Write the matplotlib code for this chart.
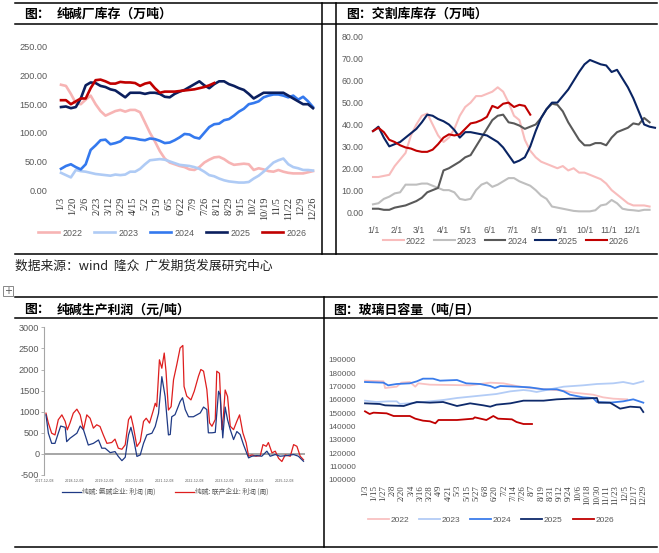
import numpy as np
import pandas as pd
import matplotlib
matplotlib.use("Agg")
import matplotlib.pyplot as plt
from matplotlib.lines import Line2D
from matplotlib.patches import Rectangle

# ---------------- data ----------------
YEARS = ["2022", "2023", "2024", "2025", "2026"]

# 纯碱厂库存 (万吨), weekly from 1/3
soda_2022 = [184, 182, 168, 152, 150, 158, 165, 150, 138, 130, 134, 138, 140, 137, 140, 140, 136, 118,
             100, 85, 68, 55, 48, 45, 42, 40, 36, 35, 40, 48, 53, 57, 58, 54, 48, 44, 45, 46, 45, 35,
             38, 36, 33, 32, 35, 32, 30, 29, 29, 29, 31, 33]
soda_2023 = [30, 26, 22, 35, 33, 32, 30, 28, 27, 26, 25, 27, 26, 27, 32, 32, 37, 45, 52, 53, 54, 53,
             50, 47, 44, 43, 42, 40, 37, 32, 26, 24, 20, 17, 15, 14, 13, 13, 14, 20, 25, 32, 40, 48,
             52, 55, 45, 40, 38, 35, 35, 34]
soda_2024 = [37, 42, 45, 40, 36, 45, 70, 78, 87, 88, 80, 82, 85, 92, 91, 90, 88, 87, 90, 89, 86, 82,
             83, 87, 92, 98, 97, 92, 90, 100, 110, 115, 116, 122, 124, 130, 137, 142, 150, 152, 155,
             162, 165, 167, 167, 165, 162, 165, 158, 163, 155, 145]
soda_2025 = [145, 146, 143, 145, 160, 183, 188, 187, 182, 180, 176, 174, 168, 162, 170, 170, 170, 168,
             170, 170, 168, 163, 162, 168, 172, 175, 180, 185, 190, 183, 178, 185, 190, 190, 185, 182,
             178, 175, 168, 160, 165, 170, 170, 170, 170, 170, 165, 160, 155, 150, 150, 143]
soda_2026 = [157, 157, 150, 155, 160, 160, 178, 192, 193, 190, 186, 186, 189, 188, 188, 187, 182, 186,
             188, 178, 170, 172, 172, 172, 173, 174, 175, 176, 178, 180, 183, 187]
soda_ticks = ["1/3", "1/20", "2/6", "2/23", "3/12", "3/29", "4/15", "5/2", "5/19", "6/5", "6/22",
              "7/9", "7/26", "8/12", "8/29", "9/15", "10/2", "10/19", "11/5", "11/22", "12/9", "12/26"]

# 交割库库存 (万吨), weekly from 1/1
dlv_2022 = [16, 16, 16.5, 17, 21, 24, 27, 35, 40, 44, 45, 40, 35, 32, 34, 38, 44, 48, 50, 53, 53, 54,
            55, 57, 55, 50, 44, 42, 33, 28, 25, 23, 22, 21, 20, 21, 19, 20, 18, 18, 17, 16, 15, 13,
            10, 8, 6, 4, 3, 3, 3, 2.5]
dlv_2023 = [3.5, 4, 6, 7, 8.5, 9, 12.5, 12.5, 12.5, 13, 13, 12, 11, 10, 10, 9, 6, 5.5, 6, 10, 12.5,
            13.5, 11.5, 12.5, 14, 15.5, 15.5, 14, 13, 12, 10, 7.5, 6, 2.5, 2, 1.5, 1, 0.5, 0.3, 0.3,
            0.3, 0.8, 3, 3.5, 5.5, 4, 1.5, 1, 0.8, 0.5, 1, 1]
dlv_2024 = [1.5, 1.5, 1, 1, 2, 2.5, 3, 4, 5, 6.5, 9, 10, 11, 19, 20, 21.5, 23, 25, 26, 30, 34, 38, 42,
            44, 44.5, 41, 40.5, 39.5, 38, 39, 40, 43, 47, 49.5, 49, 46, 41, 37, 33, 30.5, 30.5, 31.5,
            31.5, 30.5, 34, 36.5, 37.5, 38.5, 40.5, 40, 43, 41]
dlv_2025 = [37, 39, 34, 30, 31, 32, 34, 36, 38, 41, 44.5, 44, 42.5, 41.5, 40, 37.5, 34, 36.5, 36.5, 36,
            35.5, 35, 33.5, 32, 29.5, 26, 22.5, 23.5, 25, 30, 37, 43, 47, 50, 50, 53, 56, 60, 64, 67.5,
            69.5, 68.5, 67.5, 67, 64, 65, 61, 57, 52, 46, 40, 39, 38.5]
dlv_2026 = [37, 38.5, 36.5, 33, 32, 30.5, 29.5, 29, 28, 27.5, 27.5, 28.5, 31, 34, 35.5, 35, 35.5, 38,
            40.5, 41, 42, 43.5, 48.5, 47.5, 49.5, 50, 48, 49, 48.5, 44.5]
dlv_ticks = ["1/1", "2/1", "3/1", "4/1", "5/1", "6/1", "7/1", "8/1", "9/1", "10/1", "11/1", "12/1"]
dlv_tick_days = [0, 31, 59, 90, 120, 151, 181, 212, 243, 273, 304, 334]

# 纯碱生产利润 (元/吨)
ammonia_t = [2017.99, 2018.07, 2018.18, 2018.29, 2018.40, 2018.48, 2018.63, 2018.68, 2018.79, 2019.02,
             2019.13, 2019.24, 2019.40, 2019.57, 2019.74, 2019.85, 2019.96, 2020.13, 2020.29, 2020.40,
             2020.52, 2020.63, 2020.74, 2020.82, 2020.90, 2021.02, 2021.13, 2021.24, 2021.35, 2021.52,
             2021.63, 2021.74, 2021.85, 2021.96, 2022.07, 2022.13, 2022.18, 2022.29, 2022.46, 2022.54,
             2022.63, 2022.74, 2022.90, 2023.13, 2023.24, 2023.35, 2023.40, 2023.52, 2023.63, 2023.74,
             2023.79, 2023.88, 2023.96, 2024.04, 2024.13, 2024.24, 2024.35, 2024.46, 2024.57, 2024.74,
             2024.85, 2025.02, 2025.18, 2025.35, 2025.46, 2025.63, 2025.79, 2026.02, 2026.24, 2026.40,
             2026.57]
ammonia_v = [925, 490, 250, 250, 490, 660, 630, 290, 370, 490, 660, 570, 210, 250, 330, 135, 135, 30,
             55, -60, -160, -80, 450, 630, 395, -60, -25, 250, 450, 490, 650, 960, 1830, 1360, 450, 460,
             880, 930, 1240, 1330, 1050, 880, 880, 970, 1110, 1050, 500, 500, 510, 1485, 1400, 380,
             1110, 810, 575, 340, 530, 460, 220, -95, -55, -40, -55, 65, -55, -15, -55, -40, -15, -55,
             -175]
joint_t = [2017.99, 2018.07, 2018.18, 2018.29, 2018.40, 2018.52, 2018.63, 2018.70, 2018.79, 2018.90,
           2019.02, 2019.13, 2019.24, 2019.35, 2019.46, 2019.57, 2019.68, 2019.79, 2019.90, 2020.02,
           2020.18, 2020.29, 2020.40, 2020.52, 2020.63, 2020.74, 2020.82, 2020.90, 2021.02, 2021.13,
           2021.24, 2021.33, 2021.44, 2021.57, 2021.63, 2021.68, 2021.77, 2021.85, 2021.93, 2021.99,
           2022.07, 2022.16, 2022.24, 2022.35, 2022.46, 2022.55, 2022.59, 2022.68, 2022.82, 2022.93,
           2023.07, 2023.15, 2023.24, 2023.35, 2023.44, 2023.52, 2023.63, 2023.68, 2023.77, 2023.85,
           2023.90, 2023.96, 2024.04, 2024.13, 2024.24, 2024.35, 2024.44, 2024.55, 2024.66, 2024.74,
           2024.85, 2024.99, 2025.13, 2025.22, 2025.33, 2025.40, 2025.52, 2025.63, 2025.74, 2025.85,
           2025.96, 2026.13, 2026.24, 2026.35, 2026.46, 2026.57]
joint_v = [965, 730, 490, 450, 810, 925, 770, 570, 730, 965, 1060, 925, 570, 925, 845, 610, 690, 650,
           450, 250, 270, 350, 135, 110, 215, 810, 900, 650, 175, 290, 770, 845, 730, 1040, 1200, 1120,
           2230, 2030, 2390, 1950, 1040, 1120, 1760, 2120, 2510, 2570, 1600, 1370, 1280, 1485, 1840,
           2000, 1960, 1525, 735, 655, 815, 1960, 1910, 575, 890, 1515, 1360, 655, 575, 775, 925, 500,
           260, -55, -25, -55, -40, 220, 180, 270, 25, 65, -105, -180, -25, -55, 220, 180, -55, -140]
profit_ticks = ["2017-12-08", "2018-12-08", "2019-12-08", "2020-12-08", "2021-12-08",
                "2022-12-08", "2023-12-08", "2024-12-08", "2025-12-08"]

# 玻璃日容量 (吨/日), day offset from 1/3
glass_d_2022 = [0, 24, 26, 41, 47, 58, 65, 69, 84, 136, 162, 179, 196, 213, 235, 257, 270, 295, 308, 321, 339]
glass_v_2022 = [174500, 174000, 169000, 170000, 173000, 173500, 170000, 172500, 171500, 171000, 173000,
                172500, 170500, 169000, 168000, 167000, 165500, 164000, 162000, 161000, 160500]
glass_d_2023 = [0, 15, 30, 41, 45, 67, 84, 101, 119, 136, 153, 170, 188, 205, 213, 222, 239, 257, 282,
                300, 321, 334, 347, 360]
glass_v_2023 = [159500, 158500, 159000, 159000, 157000, 158000, 159000, 160000, 161500, 162500, 163500,
                164500, 166500, 167500, 167000, 166000, 168000, 170000, 171000, 172000, 172500, 173500,
                172000, 174000]
glass_d_2024 = [0, 24, 30, 41, 58, 67, 75, 88, 97, 119, 131, 149, 162, 168, 175, 196, 213, 231, 248, 257,
                265, 282, 295, 300, 317, 334, 347, 360]
glass_v_2024 = [173500, 173000, 171000, 172000, 172500, 174000, 176000, 176000, 174500, 175000, 172500,
                172000, 170500, 169000, 170500, 170000, 169500, 168000, 168000, 166500, 164000, 162000,
                161500, 158500, 158000, 159000, 160500, 158000]
glass_d_2025 = [0, 19, 26, 50, 58, 67, 84, 101, 119, 136, 153, 162, 170, 188, 205, 231, 248, 265, 282,
                300, 302, 317, 330, 343, 356, 360]
glass_v_2025 = [157500, 157000, 156000, 155500, 157000, 158500, 158000, 158500, 155500, 157500, 156000,
                155000, 156500, 157500, 159500, 159500, 160500, 161000, 161000, 161500, 158000, 158000,
                153500, 155000, 154500, 151000]
glass_d_2026 = [0, 6, 11, 28, 37, 58, 65, 75, 84, 91, 95, 119, 140, 142, 157, 166, 172, 190, 196, 205, 216]
glass_v_2026 = [151500, 149500, 150500, 150000, 148000, 148000, 146000, 144500, 144000, 142500, 145000,
                145000, 146000, 147000, 145000, 148000, 146000, 145500, 143500, 142000, 142000]
glass_ticks = ["1/3", "1/15", "1/27", "2/8", "2/20", "3/4", "3/16", "3/28", "4/9", "4/21", "5/3",
               "5/15", "5/27", "6/8", "6/20", "7/2", "7/14", "7/26", "8/7", "8/19", "8/31", "9/12",
               "9/24", "10/6", "10/18", "10/30", "11/11", "11/23", "12/5", "12/17", "12/29"]

# ---------------- layout helpers ----------------
W, H = 659, 553
CJK = ["Noto Sans CJK SC", "DejaVu Sans"]
NARROW = ["Liberation Sans Narrow", "Liberation Sans", "DejaVu Sans"]
SERIF = ["Liberation Serif", "DejaVu Serif"]

fig = plt.figure(figsize=(W / 100, H / 100), dpi=100)
fig.patch.set_facecolor("white")


def px_axes(l, t, r, b):
    return fig.add_axes([l / W, 1 - b / H, (r - l) / W, (b - t) / H])


def hline(x1, x2, y, lw=1.1, color="black"):
    fig.add_artist(Line2D([x1 / W, x2 / W], [1 - y / H, 1 - y / H], transform=fig.transFigure,
                          color=color, lw=lw))


def vline(x, y1, y2, lw=1.1, color="black"):
    fig.add_artist(Line2D([x / W, x / W], [1 - y1 / H, 1 - y2 / H], transform=fig.transFigure,
                          color=color, lw=lw))


def ftext(x, y, s, **kw):
    fig.text(x / W, 1 - y / H, s, **kw)


def clean(ax):
    for sp in ax.spines.values():
        sp.set_visible(False)
    ax.tick_params(length=0)
    ax.set_facecolor("none")


# table borders
hline(15, 657, 3)
hline(15, 657, 24)
hline(15, 657, 254)
vline(322, 3, 254)
vline(336, 3, 254)
hline(15, 657, 297)
hline(15, 657, 318)
hline(15, 657, 547)
vline(324, 297, 547)

# headers
title_kw = dict(family=CJK, fontsize=9.3, fontweight="bold", va="center", ha="left", color="black")
ftext(24, 14, "图：", **title_kw)
ftext(57, 14, "纯碱厂库存（万吨）", **title_kw)
ftext(346, 14, "图：交割库库存（万吨）", **title_kw)
ftext(24, 309, "图：", **title_kw)
ftext(57, 309, "纯碱生产利润（元/吨）", **title_kw)
ftext(333, 309, "图：玻璃日容量（吨/日）", **title_kw)
ftext(15, 266, "数据来源：wind  隆众  广发期货发展研究中心", family=CJK, fontsize=9.2,
      va="center", ha="left", color="#222222")

# small move handle icon
fig.add_artist(Rectangle((3 / W, 1 - 296 / H), 10 / W, 10 / H, transform=fig.transFigure,
                         fill=False, ec="#888888", lw=0.7))
ftext(8, 290.5, "+", fontsize=7, ha="center", va="center", color="#555555")

# ---------------- panel 1: 纯碱厂库存 ----------------
c1 = {"2022": "#F7B4B4", "2023": "#AFCBF5", "2024": "#3479EE", "2025": "#0B1F5E", "2026": "#C00000"}
ax1 = px_axes(61, 47, 313, 190)
clean(ax1)
for yr, vals in zip(YEARS, [soda_2022, soda_2023, soda_2024, soda_2025, soda_2026]):
    ax1.plot(np.arange(len(vals)) * 7, vals, color=c1[yr], lw=1.9, label=yr, clip_on=False)
ax1.set_xlim(0, 357)
ax1.set_ylim(0, 250)
ax1.set_yticks(np.arange(0, 251, 50))
ax1.set_yticklabels([f"{v:.2f}" for v in np.arange(0, 251, 50)], family=["Liberation Sans"],
                    fontsize=6.6, color="#595959")
ax1.set_xticks(np.arange(len(soda_ticks)) * 17)
ax1.set_xticklabels(soda_ticks, rotation=90, family=SERIF, fontsize=7.4, color="#333333")
ax1.tick_params(axis="y", pad=9.5)
ax1.tick_params(axis="x", pad=5)
ax1.legend(loc="center", bbox_to_anchor=(172 / W, 1 - 233 / H), bbox_transform=fig.transFigure,
           ncol=5, frameon=False, handlelength=2.4, handletextpad=0.35, columnspacing=1.3,
           prop={"family": "Liberation Sans", "size": 6.4}, labelcolor="#595959")

# ---------------- panel 2: 交割库库存 ----------------
c2 = {"2022": "#F8BCBC", "2023": "#BFBFBF", "2024": "#595959", "2025": "#0A2463", "2026": "#C00000"}
ax2 = px_axes(373, 37, 655, 212)
clean(ax2)
for yr, vals in zip(YEARS, [dlv_2022, dlv_2023, dlv_2024, dlv_2025, dlv_2026]):
    ax2.plot(np.arange(len(vals)) * 7, vals, color=c2[yr], lw=1.5, label=yr, clip_on=False)
ax2.set_xlim(0, 364)
ax2.set_ylim(0, 80)
ax2.set_yticks(np.arange(0, 81, 10))
ax2.set_yticklabels([f"{v:.2f}" for v in np.arange(0, 81, 10)], family=NARROW, fontsize=6.3,
                    color="#595959")
ax2.set_xticks(dlv_tick_days)
ax2.set_xticklabels(dlv_ticks, family=NARROW, fontsize=6.3, color="#595959")
ax2.tick_params(axis="y", pad=7)
ax2.tick_params(axis="x", pad=10)
ax2.legend(loc="center", bbox_to_anchor=(506 / W, 1 - 241 / H), bbox_transform=fig.transFigure,
           ncol=5, frameon=False, handlelength=2.3, handletextpad=0.2, columnspacing=0.9,
           prop={"family": NARROW, "size": 6.5}, labelcolor="#595959")

# ---------------- panel 3: 纯碱生产利润 ----------------
tick_dates = pd.to_datetime(profit_ticks)
tick_pos = tick_dates.year + (tick_dates.dayofyear - 1) / 365.0
ax3 = px_axes(44.3, 327.3, 305, 475)
ax3.set_facecolor("none")
for name, sp in ax3.spines.items():
    sp.set_visible(name == "left")
ax3.spines["left"].set_color("#A6A6A6")
ax3.spines["left"].set_linewidth(0.8)
ax3.axhline(0, color="#A6A6A6", lw=1.4, zorder=1)
ax3.plot(ammonia_t, ammonia_v, color="#1F3A85", lw=0.9, label="纯碱: 氨碱企业: 利润 (周)", zorder=3)
ax3.plot(joint_t, joint_v, color="#DE1E1E", lw=0.9, label="纯碱: 联产企业: 利润 (周)", zorder=2)
ax3.set_xlim(2017.937, 2026.62)
ax3.set_ylim(-500, 3000)
ax3.set_yticks(np.arange(-500, 3001, 500))
ax3.set_yticklabels([str(v) for v in np.arange(-500, 3001, 500)], family=NARROW, fontsize=6.6,
                    color="#595959")
ax3.tick_params(axis="y", length=2, width=0.6, color="#A6A6A6", pad=1.5)
ax3.set_xticks(tick_pos)
ax3.set_xticklabels(profit_ticks, fontsize=2.4, color="#595959")
ax3.tick_params(axis="x", length=0, pad=3)
ax3.legend(loc="center", bbox_to_anchor=(165 / W, 1 - 492 / H), bbox_transform=fig.transFigure,
           ncol=2, frameon=False, handlelength=2.8, handletextpad=0.2, columnspacing=2.8,
           prop={"family": CJK, "size": 4.9}, labelcolor="#595959")

# ---------------- panel 4: 玻璃日容量 ----------------
c4 = {"2022": "#F9C2C2", "2023": "#B3CCF6", "2024": "#3A7CEB", "2025": "#0E2A6B", "2026": "#C00000"}
ax4 = px_axes(365, 360, 643.3, 480)
clean(ax4)
glass = [(glass_d_2022, glass_v_2022), (glass_d_2023, glass_v_2023), (glass_d_2024, glass_v_2024),
         (glass_d_2025, glass_v_2025), (glass_d_2026, glass_v_2026)]
for yr, (d, v) in zip(YEARS, glass):
    ax4.plot(d, v, color=c4[yr], lw=1.3, label=yr, clip_on=False)
ax4.set_xlim(0, 360)
ax4.set_ylim(100000, 190000)
ax4.set_yticks(np.arange(100000, 190001, 10000))
ax4.set_yticklabels([str(v) for v in np.arange(100000, 190001, 10000)], family=NARROW, fontsize=5.9,
                    color="#595959")
ax4.set_xticks(np.arange(len(glass_ticks)) * 12)
ax4.set_xticklabels(glass_ticks, rotation=90, family=SERIF, fontsize=6.4, color="#404040")
ax4.tick_params(axis="y", pad=6.5)
ax4.tick_params(axis="x", pad=3.5)
ax4.legend(loc="center", bbox_to_anchor=(491 / W, 1 - 520 / H), bbox_transform=fig.transFigure,
           ncol=5, frameon=False, handlelength=2.5, handletextpad=0.2, columnspacing=1.2,
           prop={"family": NARROW, "size": 6.0}, labelcolor="#595959")

fig.savefig("out.png", dpi=100, facecolor="white")
